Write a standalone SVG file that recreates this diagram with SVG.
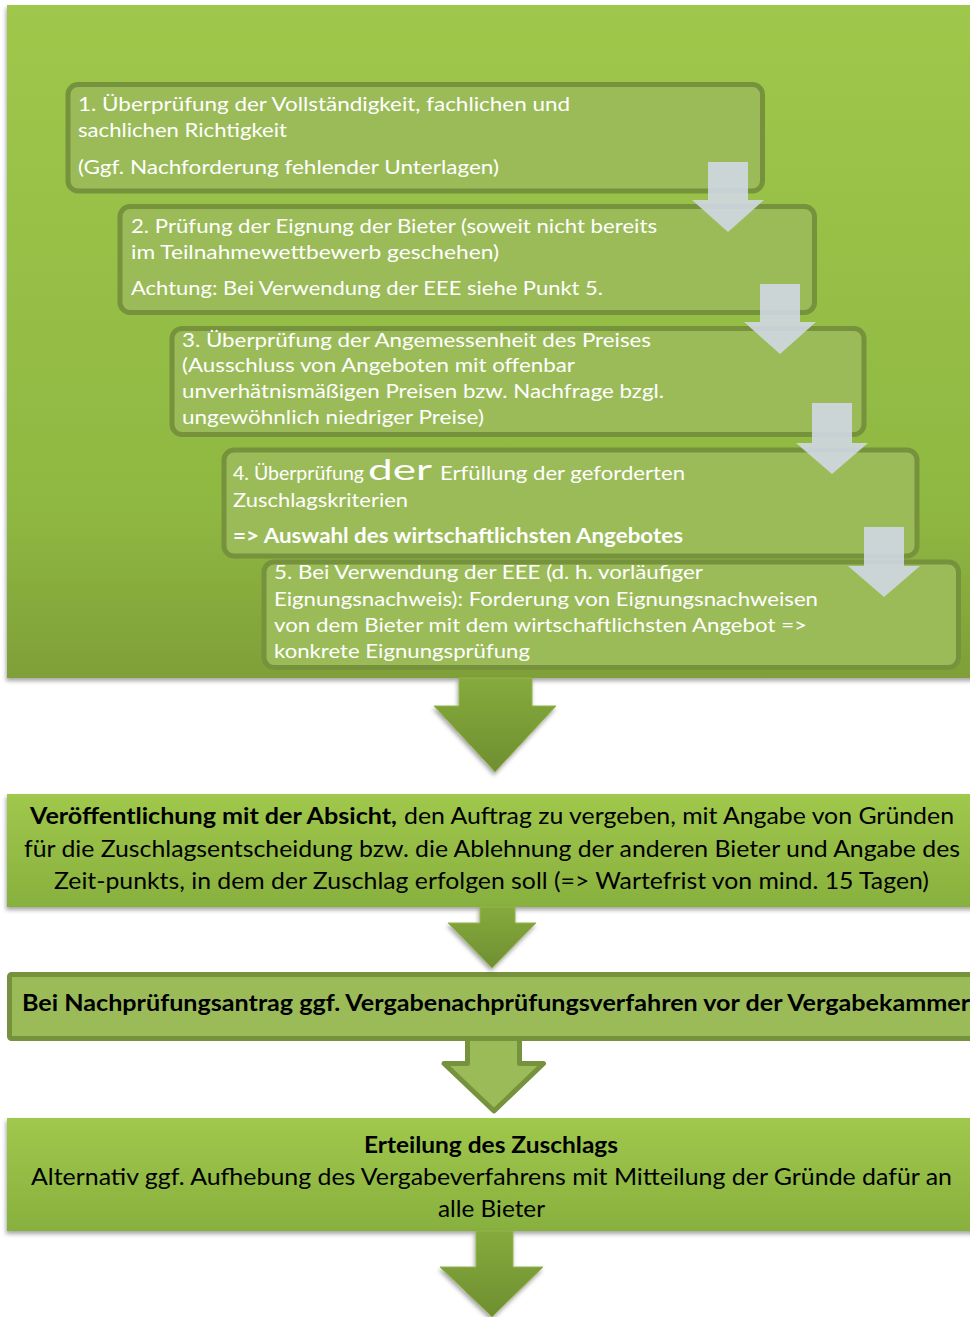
<svg xmlns="http://www.w3.org/2000/svg" width="970" height="1317" viewBox="0 0 970 1317">
<defs>
  <linearGradient id="gContainer" x1="0" y1="0" x2="0" y2="1">
    <stop offset="0" stop-color="#9fc74b"/>
    <stop offset="0.75" stop-color="#8fb842"/>
    <stop offset="1" stop-color="#7f9f38"/>
  </linearGradient>
  <linearGradient id="gBox" x1="0" y1="0" x2="0" y2="1">
    <stop offset="0" stop-color="#a0c84c"/>
    <stop offset="1" stop-color="#88b03e"/>
  </linearGradient>
  <linearGradient id="gArrow" x1="0" y1="0" x2="0" y2="1">
    <stop offset="0" stop-color="#86aa3c"/>
    <stop offset="1" stop-color="#6f8f31"/>
  </linearGradient>
  <filter id="shadow" x="-5%" y="-10%" width="110%" height="125%">
    <feDropShadow dx="-1" dy="3" stdDeviation="2" flood-color="#000" flood-opacity="0.35"/>
  </filter>
  <style>
    .step { fill: #9bbb59; stroke: #76923c; stroke-width: 5; }
    .w { fill: #ffffff; font-family: Lato, "Liberation Sans", sans-serif; font-size: 20px; }
    .k { fill: #000000; font-family: Lato, "Liberation Sans", sans-serif; font-size: 23.5px; }
    .b { font-weight: bold; }
    .light { fill: #d0d8e3; fill-opacity: 0.9; }
    .big { fill: url(#gArrow); stroke: #93b54e; stroke-width: 1; }
    .outl { fill: #9bbb59; stroke: #76923c; stroke-width: 5; stroke-linejoin: round; }
  </style>
</defs>

<g id="container">
  <rect x="7" y="5" width="980" height="673" fill="url(#gContainer)" filter="url(#shadow)"/>
</g>

<g id="step1">
  <rect class="step" x="68" y="84.5" width="694.5" height="106.5" rx="10"/>
  <text class="w" x="78" y="111" textLength="492" lengthAdjust="spacingAndGlyphs">1. Überprüfung der Vollständigkeit, fachlichen und</text>
  <text class="w" x="78" y="137" textLength="209" lengthAdjust="spacingAndGlyphs">sachlichen Richtigkeit</text>
  <text class="w" x="78" y="174" textLength="421" lengthAdjust="spacingAndGlyphs">(Ggf. Nachforderung fehlender Unterlagen)</text>
</g>

<g id="step2">
  <rect class="step" x="120" y="206.5" width="694.5" height="106" rx="10"/>
  <text class="w" x="131" y="233" textLength="526" lengthAdjust="spacingAndGlyphs">2. Prüfung der Eignung der Bieter (soweit nicht bereits</text>
  <text class="w" x="131" y="259" textLength="368" lengthAdjust="spacingAndGlyphs">im Teilnahmewettbewerb geschehen)</text>
  <text class="w" x="131" y="295" textLength="472" lengthAdjust="spacingAndGlyphs">Achtung: Bei Verwendung der EEE siehe Punkt 5.</text>
</g>

<g id="step3">
  <rect class="step" x="172" y="328.5" width="692" height="106" rx="10"/>
  <text class="w" x="182" y="347" textLength="469" lengthAdjust="spacingAndGlyphs">3. Überprüfung der Angemessenheit des Preises</text>
  <text class="w" x="182" y="372" textLength="393" lengthAdjust="spacingAndGlyphs">(Ausschluss von Angeboten mit offenbar</text>
  <text class="w" x="182" y="398" textLength="482" lengthAdjust="spacingAndGlyphs">unverhätnismäßigen Preisen bzw. Nachfrage bzgl.</text>
  <text class="w" x="182" y="424" textLength="302" lengthAdjust="spacingAndGlyphs">ungewöhnlich niedriger Preise)</text>
</g>

<g id="step4">
  <rect class="step" x="224" y="450" width="693" height="106" rx="10"/>
  <text class="w" x="233" y="480"><tspan x="233" textLength="131" lengthAdjust="spacingAndGlyphs">4. Überprüfung</tspan><tspan x="368" font-size="28" textLength="64" lengthAdjust="spacingAndGlyphs">der</tspan><tspan x="440" textLength="245" lengthAdjust="spacingAndGlyphs">Erfüllung der geforderten</tspan></text>
  <text class="w" x="233" y="507" textLength="175" lengthAdjust="spacingAndGlyphs">Zuschlagskriterien</text>
  <text class="w b" x="233" y="543" textLength="450" lengthAdjust="spacingAndGlyphs">=&gt; Auswahl des wirtschaftlichsten Angebotes</text>
</g>

<g id="step5">
  <rect class="step" x="264" y="562" width="694.5" height="105.5" rx="10"/>
  <text class="w" x="274" y="579" textLength="429" lengthAdjust="spacingAndGlyphs">5. Bei Verwendung der EEE (d. h. vorläufiger</text>
  <text class="w" x="274" y="606" textLength="544" lengthAdjust="spacingAndGlyphs">Eignungsnachweis): Forderung von Eignungsnachweisen</text>
  <text class="w" x="274" y="632" textLength="533" lengthAdjust="spacingAndGlyphs">von dem Bieter mit dem wirtschaftlichsten Angebot =&gt;</text>
  <text class="w" x="274" y="658" textLength="256" lengthAdjust="spacingAndGlyphs">konkrete Eignungsprüfung</text>
</g>

<g id="veroeffentlichung">
  <rect x="7" y="794" width="980" height="113" fill="url(#gBox)" filter="url(#shadow)"/>
  <text class="k" y="824"><tspan class="b" x="30" textLength="367" lengthAdjust="spacingAndGlyphs">Veröffentlichung mit der Absicht,</tspan><tspan x="404" textLength="550" lengthAdjust="spacingAndGlyphs">den Auftrag zu vergeben, mit Angabe von Gründen</tspan></text>
  <text class="k" x="24" y="857" textLength="936" lengthAdjust="spacingAndGlyphs">für die Zuschlagsentscheidung bzw. die Ablehnung der anderen Bieter und Angabe des</text>
  <text class="k" x="54" y="889" textLength="875" lengthAdjust="spacingAndGlyphs">Zeit-punkts, in dem der Zuschlag erfolgen soll (=&gt; Wartefrist von mind. 15 Tagen)</text>
</g>

<g id="nachpruefung">
  <rect x="9.5" y="974.5" width="980" height="64" rx="2" fill="#9bbb59" stroke="#76923c" stroke-width="5"/>
  <text class="k b" x="22" y="1011" textLength="948" lengthAdjust="spacingAndGlyphs">Bei Nachprüfungsantrag ggf. Vergabenachprüfungsverfahren vor der Vergabekammer</text>
</g>

<g id="erteilung">
  <rect x="7" y="1118" width="980" height="113" fill="url(#gBox)" filter="url(#shadow)"/>
  <text class="k b" x="364" y="1153" textLength="254" lengthAdjust="spacingAndGlyphs">Erteilung des Zuschlags</text>
  <text class="k" x="31" y="1185" textLength="921" lengthAdjust="spacingAndGlyphs">Alternativ ggf. Aufhebung des Vergabeverfahrens mit Mitteilung der Gründe dafür an</text>
  <text class="k" x="438" y="1217" textLength="107" lengthAdjust="spacingAndGlyphs">alle Bieter</text>
</g>

<g id="connectors">
  <path class="light" d="M708 162 H748 V200 H764 L728 232 L692 200 H708 Z"/>
  <path class="light" d="M760 284 H800 V322 H816 L780 354 L744 322 H760 Z"/>
  <path class="light" d="M812 403 H852 V443 H868 L832 474 L796 443 H812 Z"/>
  <path class="light" d="M864 527 H904 V566 H920 L884 597 L848 566 H864 Z"/>
  <path class="big" d="M459 678 H532 V706 H556 L495 772 L434 706 H459 Z" filter="url(#shadow)"/>
  <path class="big" d="M480 907 H515 V923 H536 L492 968 L448 923 H480 Z" filter="url(#shadow)"/>
  <path class="outl" d="M467.5 1041 V1063.5 H444 L494 1111 L543.5 1063.5 H519.5 V1041"/>
  <path class="big" d="M476 1231 H513 V1267 H543 L492 1317 L440 1267 H476 Z" filter="url(#shadow)"/>
</g>
</svg>
